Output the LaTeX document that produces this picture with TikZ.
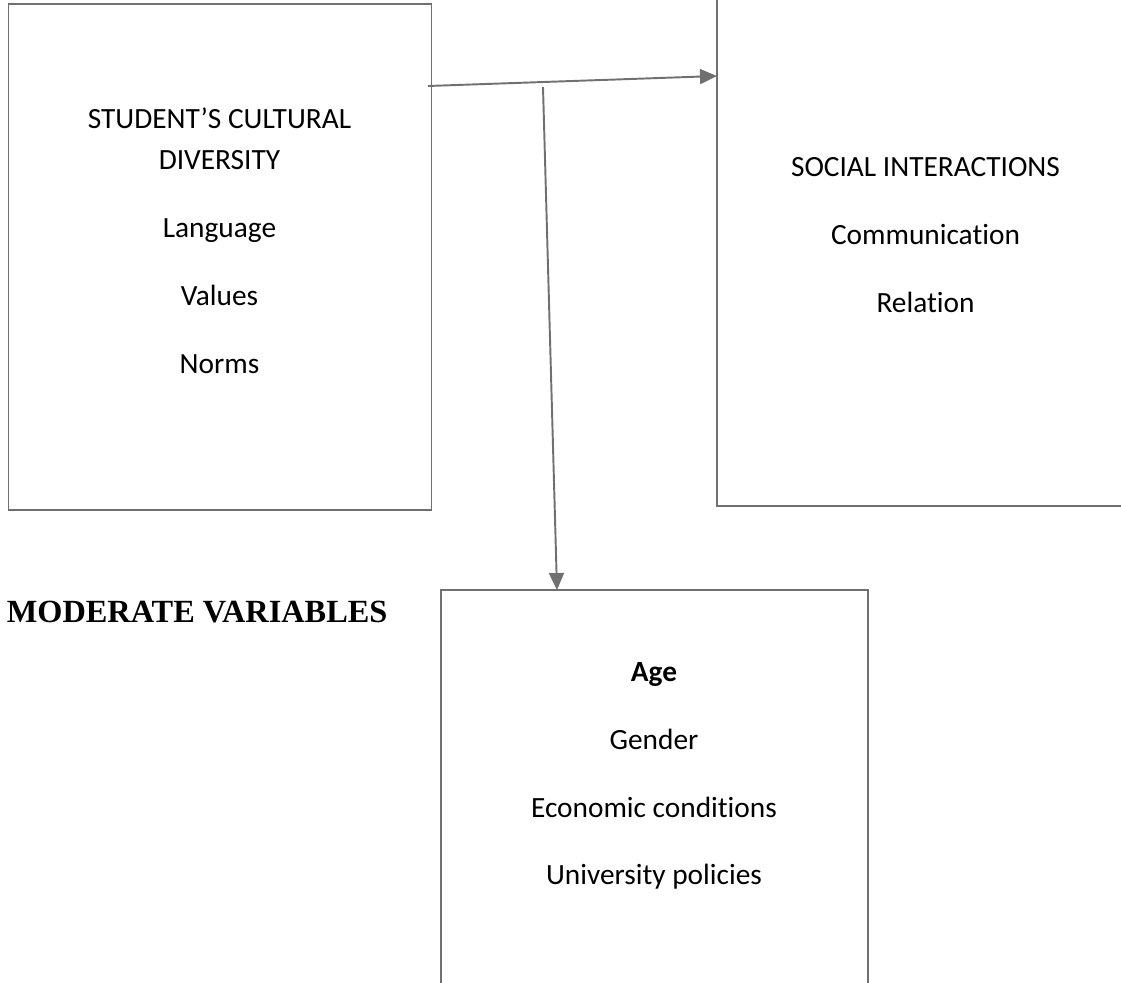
\documentclass[tikz,border=0pt]{standalone}
\usepackage{fontspec}
\setmainfont[Ligatures=NoCommon]{Carlito}
\newfontfamily\timesfont{Liberation Serif}
\usetikzlibrary{arrows.meta,positioning}
\definecolor{linegray}{RGB}{112,112,112}

\tikzstyle{varbox} = [rectangle, draw=linegray, line width=1.1pt, inner sep=0pt, outer sep=0pt]
\tikzstyle{entry} = [inner sep=0pt, text height=0.4cm, text depth=0.12cm, font=\fontsize{16.7}{20}\selectfont]
\tikzstyle{varname} = [inner sep=0pt, font=\timesfont\bfseries\fontsize{18.4}{22}\selectfont]
\tikzstyle{arrow} = [draw=linegray, line width=1.1pt, -{Triangle[length=0.34cm,width=0.3cm]}]

\begin{document}
\begin{tikzpicture}[node distance=1.355cm]
	\useasboundingbox (0,0) rectangle (22.42,-19.66);
	\clip (0,0) rectangle (22.42,-19.66);
	
	% boxes
	\node (diversity) [varbox, minimum width=8.46cm, minimum height=10.12cm] at (4.40,-5.14) {};
	\node (interaction) [varbox, minimum width=8.36cm, minimum height=10.22cm] at (18.52,-5.01) {};
	\node (moderate) [varbox, minimum width=8.54cm, minimum height=8.2cm] at (13.09,-15.9) {};
	
	% student's cultural diversity
	\node (div2) [entry, anchor=base] at (4.39,-3.40) {DIVERSITY};
	\node (div1) [entry, above of=div2, node distance=0.82cm] {STUDENT’S CULTURAL};
	\node (lang) [entry, below of=div2] {Language};
	\node (vals) [entry, below of=lang] {Values};
	\node (norms) [entry, below of=vals] {Norms};
	
	% social interactions
	\node (soc) [entry, anchor=base] at (18.51,-3.54) {SOCIAL INTERACTIONS};
	\node (comm) [entry, below of=soc] {Communication};
	\node (rel) [entry, below of=comm] {Relation};
	
	% moderate variables
	\node (title) [varname, anchor=base west] at (0.13,-12.44) {MODERATE VARIABLES};
	\node (age) [entry, anchor=base, font=\fontsize{16.7}{20}\selectfont\bfseries] at (13.08,-13.63) {Age};
	\node (gender) [entry, below of=age] {Gender};
	\node (econ) [entry, below of=gender] {Economic conditions};
	\node (policy) [entry, below of=econ] {University policies};
	
	\coordinate (fork) at (8.56,-1.72);
	\coordinate (drop) at (10.86,-1.74);
	\draw [arrow] (fork) -- ([yshift=3.49cm]interaction.west);
	\draw [arrow] (drop) -- ([xshift=-1.95cm]moderate.north);
	
\end{tikzpicture}
\end{document}
